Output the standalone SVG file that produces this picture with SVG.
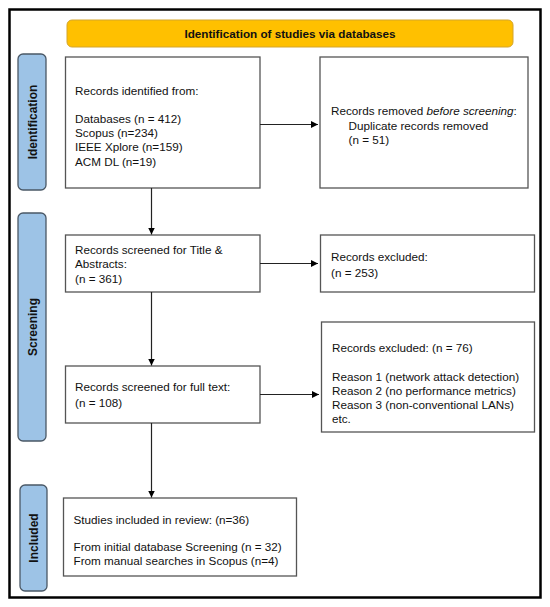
<svg xmlns="http://www.w3.org/2000/svg" width="550" height="607" viewBox="0 0 550 607">
  <defs>
    <marker id="arrow" viewBox="0 0 10 10" refX="10" refY="5" markerWidth="7" markerHeight="7" markerUnits="userSpaceOnUse" orient="auto">
      <path d="M0,0 L10,5 L0,10 z" fill="#000"/>
    </marker>
    <style>
      .box { fill: #fff; stroke: #555; stroke-width: 1.3; }
      .side { fill: #9DC3E6; stroke: #4a5866; stroke-width: 1.3; }
      .t { font-family: "Liberation Sans", Arial, sans-serif; font-size: 11.7px; fill: #111; }
      .b { font-family: "Liberation Sans", Arial, sans-serif; font-size: 11.7px; font-weight: bold; fill: #111; }
      .sl { font-family: "Liberation Sans", Arial, sans-serif; font-size: 12px; font-weight: bold; fill: #111; text-anchor: middle; }
      .conn { stroke: #222; stroke-width: 1.2; fill: none; marker-end: url(#arrow); }
    </style>
  </defs>
  <rect x="0" y="0" width="550" height="607" fill="#fff"/>
  <rect id="frame" x="9.5" y="9.5" width="531" height="588" fill="none" stroke="#000" stroke-width="2.5"/>

  <g id="banner">
    <rect x="67" y="20" width="446" height="27" rx="5" fill="#FFC000" stroke="#d4a52a" stroke-width="1"/>
    <text class="b" x="290" y="37.5" text-anchor="middle">Identification of studies via databases</text>
  </g>

  <g id="label-identification">
    <rect class="side" x="18" y="54" width="28" height="136" rx="5"/>
    <text class="sl" transform="translate(36.5,122) rotate(-90)">Identification</text>
  </g>
  <g id="label-screening">
    <rect class="side" x="18" y="213" width="28" height="228" rx="5"/>
    <text class="sl" transform="translate(36.5,327) rotate(-90)">Screening</text>
  </g>
  <g id="label-included">
    <rect class="side" x="20" y="485" width="27" height="106" rx="5"/>
    <text class="sl" transform="translate(38,538) rotate(-90)">Included</text>
  </g>

  <g id="records-identified">
    <rect class="box" x="65.5" y="57" width="194.5" height="131"/>
    <text class="t" x="75" y="95">Records identified from:</text>
    <text class="t" x="75" y="122.5">Databases (n = 412)</text>
    <text class="t" x="75" y="136.5">Scopus (n=234)</text>
    <text class="t" x="75" y="150.5">IEEE Xplore (n=159)</text>
    <text class="t" x="75" y="165.5">ACM DL (n=19)</text>
  </g>

  <g id="records-removed">
    <rect class="box" x="320" y="57" width="208" height="131"/>
    <text class="t" x="331" y="115">Records removed <tspan font-style="italic">before screening</tspan>:</text>
    <text class="t" x="348.5" y="129.5">Duplicate records removed</text>
    <text class="t" x="348.5" y="143.5">(n = 51)</text>
  </g>

  <g id="screened-title">
    <rect class="box" x="65.5" y="235" width="194.5" height="57"/>
    <text class="t" x="75" y="254">Records screened for Title &amp;</text>
    <text class="t" x="75" y="268">Abstracts:</text>
    <text class="t" x="75" y="282.5">(n = 361)</text>
  </g>

  <g id="excluded-1">
    <rect class="box" x="320.5" y="235" width="214" height="57"/>
    <text class="t" x="331" y="260.5">Records excluded:</text>
    <text class="t" x="331" y="277">(n = 253)</text>
  </g>

  <g id="screened-full">
    <rect class="box" x="65.5" y="366" width="194.5" height="57"/>
    <text class="t" x="75" y="391">Records screened for full text:</text>
    <text class="t" x="75" y="406.5">(n = 108)</text>
  </g>

  <g id="excluded-2">
    <rect class="box" x="321.5" y="322" width="213" height="110"/>
    <text class="t" x="332" y="351.5">Records excluded: (n = 76)</text>
    <text class="t" x="332" y="380.5">Reason 1 (network attack detection)</text>
    <text class="t" x="332" y="394.5">Reason 2 (no performance metrics)</text>
    <text class="t" x="332" y="408.5">Reason 3 (non-conventional LANs)</text>
    <text class="t" x="332" y="423">etc.</text>
  </g>

  <g id="included">
    <rect class="box" x="63.5" y="498" width="233" height="78"/>
    <text class="t" x="73.5" y="524">Studies included in review: (n=36)</text>
    <text class="t" x="73.5" y="551">From initial database Screening (n = 32)</text>
    <text class="t" x="73.5" y="565">From manual searches in Scopus (n=4)</text>
  </g>

  <g id="connectors">
    <line class="conn" x1="260" y1="124.5" x2="318" y2="124.5"/>
    <line class="conn" x1="151.5" y1="188" x2="151.5" y2="234.5"/>
    <line class="conn" x1="260" y1="263.5" x2="318" y2="263.5"/>
    <line class="conn" x1="151.5" y1="292" x2="151.5" y2="365.5"/>
    <line class="conn" x1="260" y1="394.5" x2="319" y2="394.5"/>
    <line class="conn" x1="151.5" y1="423" x2="151.5" y2="497.5"/>
  </g>
</svg>
